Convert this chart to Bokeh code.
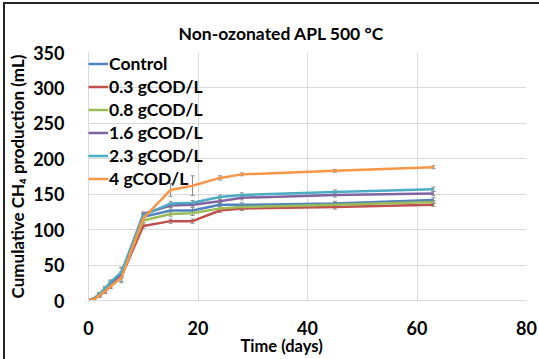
from bokeh.plotting import figure
from bokeh.models import ColumnDataSource, Whisker, TeeHead, Legend, LegendItem, Title, FixedTicker, Range1d, InlineStyleSheet
from bokeh.embed import file_html
from bokeh.resources import INLINE

days = [0, 1, 2, 3, 4, 6, 10, 15, 19, 24, 28, 45, 63]
series_names = ["Control", "0.3 gCOD/L", "0.8 gCOD/L", "1.6 gCOD/L", "2.3 gCOD/L", "4 gCOD/L"]
control = [0, 3, 8, 15, 23, 36, 118, 127, 127, 135, 135, 137, 142]
c03 = [0, 2, 7, 13, 20, 34, 105, 112, 112, 127, 130, 132, 135]
c08 = [0, 2, 7, 14, 21, 35, 113, 122, 123, 130, 132, 135, 139]
c16 = [0, 3, 9, 16, 24, 37, 122, 134, 135, 140, 145, 149, 151]
c23 = [0, 3, 9, 17, 26, 40, 120, 137, 138, 146, 149, 153, 157]
c4 = [0, 2, 7, 13, 20, 32, 116, 156, 162, 173, 178, 183, 188]
err_control = [0, 1, 2, 3, 4, 11, 4, 4, 4, 3, 3, 3, 3]
err_c03 = [0, 1, 2, 3, 3, 3, 3, 3, 3, 3, 3, 3, 2]
err_c08 = [0, 1, 2, 2, 3, 3, 3, 3, 3, 3, 3, 3, 2]
err_c16 = [0, 1, 2, 2, 3, 4, 3, 3, 3, 3, 3, 3, 3]
err_c23 = [0, 1, 2, 3, 3, 6, 3, 3, 3, 3, 3, 3, 3]
err_c4 = [0, 1, 2, 3, 3, 5, 3, 9, 14, 3, 2, 2, 2]
x_ticks = [0, 20, 40, 60, 80]
y_ticks = [0, 50, 100, 150, 200, 250, 300, 350]

values = [control, c03, c08, c16, c23, c4]
errors = [err_control, err_c03, err_c08, err_c16, err_c23, err_c4]
colors = ["#4F81BD", "#C0504D", "#9BBB59", "#8064A2", "#4BACC6", "#F79646"]

FONT = "Lato"
W, H = 539, 359
FL, FT, FB = 88, 52, 59  # frame left / top / bottom borders in px

p = figure(width=W, height=H, output_backend="svg", toolbar_location=None,
           x_range=Range1d(0, 80), y_range=Range1d(0, 350),
           min_border_left=FL, min_border_right=13, min_border_top=FT, min_border_bottom=FB)
p.outline_line_color = None
p.background_fill_color = "white"
p.border_fill_color = "white"

for ax, ticks in ((p.xaxis, x_ticks), (p.yaxis, y_ticks)):
    ax.ticker = FixedTicker(ticks=ticks)
    ax.major_tick_line_color = None
    ax.minor_tick_line_color = None
    ax.axis_line_color = "#D9D9D9"
    ax.major_label_text_font = FONT
    ax.major_label_text_font_style = "bold"
    ax.major_label_text_font_size = "18px"
    ax.major_label_text_color = "#000000"
p.xaxis.major_label_standoff = 14
p.yaxis.major_label_standoff = 18
p.yaxis.axis_label = "Cumulative CH\u2084 production (mL)"
p.yaxis.axis_label_text_font = FONT
p.yaxis.axis_label_text_font_style = "bold"
p.yaxis.axis_label_text_font_size = "17px"
p.yaxis.axis_label_text_color = "#000000"
p.yaxis.axis_label_standoff = 2

p.xgrid.grid_line_color = "#D9D9D9"
p.ygrid.grid_line_color = "#D9D9D9"

items = []
for name, vals, errs, col in zip(series_names, values, errors, colors):
    src = ColumnDataSource(dict(x=days, y=vals,
                                lo=[v - e for v, e in zip(vals, errs)],
                                hi=[v + e for v, e in zip(vals, errs)]))
    r = p.line("x", "y", source=src, line_color=col, line_width=2.5)
    w = Whisker(source=src, base="x", upper="hi", lower="lo", line_color="#8C8C8C", line_width=1,
                upper_head=TeeHead(size=4, line_color="#8C8C8C", line_width=1),
                lower_head=TeeHead(size=4, line_color="#8C8C8C", line_width=1))
    p.add_layout(w)
    items.append(LegendItem(label=name, renderers=[r]))

leg = Legend(items=items, location="top_left", margin=0, padding=1, spacing=0,
             glyph_width=20, glyph_height=23, label_height=23, label_standoff=1,
             label_text_font=FONT, label_text_font_style="bold", label_text_font_size="17.5px",
             label_text_color="#000000", background_fill_alpha=0, border_line_color=None)
leg.label_text_baseline = "middle"
p.add_layout(leg)

p.title = Title(text="Non-ozonated APL 500 \u00b0C", align="left", offset=178 - FL,
                text_font=FONT, text_font_style="bold", text_font_size="17.5px",
                text_color="#000000", standoff=18)
p.title_location = "above"

xlab = Title(text="Time (days)", align="left", offset=240 - FL,
             text_font=FONT, text_font_style="bold", text_font_size="16.5px",
             text_color="#000000", standoff=-7)
p.add_layout(xlab, "below")

p.stylesheets = [InlineStyleSheet(css=(
    ":host { position: relative; }"
    ":host::after { content: ''; position: absolute; left: 3px; top: 2px; right: 0; bottom: 0;"
    " border-left: 2px solid #262626; border-top: 2px solid #262626; pointer-events: none; }"
))]

open("out.html", "w").write(file_html(p, INLINE))
